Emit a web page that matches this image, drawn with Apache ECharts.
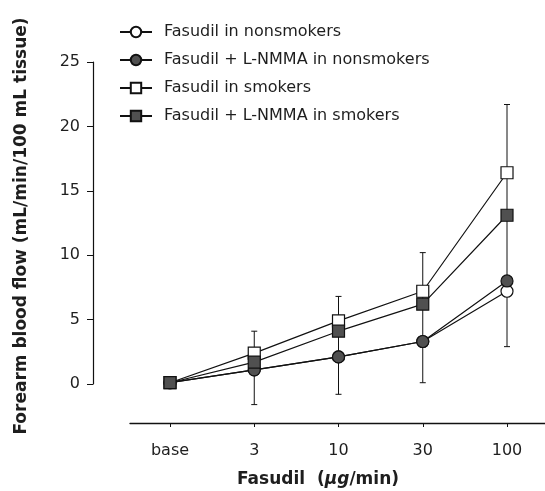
<!DOCTYPE html>
<html>
<head>
<meta charset="utf-8">
<script src="https://cdn.jsdelivr.net/npm/echarts@6/dist/echarts.min.js"></script>
<style>
html,body{margin:0;padding:0;background:#fff;}
#chart{width:545px;height:491px;}
</style>
</head>
<body>
<div id="chart"></div>
<script>
// ---- data ----
var categories = ['base', '3', '10', '30', '100'];
var fasudilNonsmokers = [0.1, 1.1, 2.1, 3.3, 7.2];
var fasudilLnmmaNonsmokers = [0.1, 1.1, 2.1, 3.3, 8.0];
var fasudilSmokers = [0.1, 2.4, 4.9, 7.2, 16.4];
var fasudilLnmmaSmokers = [0.1, 1.7, 4.1, 6.2, 13.1];
var errUpper = [null, 4.1, 6.8, 10.2, 21.7];
var errLower = [null, -1.6, -0.8, 0.1, 2.9];
var yTicks = [0, 5, 10, 15, 20, 25];
var seriesNames = ['Fasudil in nonsmokers', 'Fasudil + L-NMMA in nonsmokers', 'Fasudil in smokers', 'Fasudil + L-NMMA in smokers'];

function pairs(arr) { return arr.map(function (v, i) { return [i, v]; }); }

var FONT = 'DejaVu Sans';
var TXT = '#1e1e1e';
var GRAY = '#505050';

var chart = echarts.init(document.getElementById('chart'));

function lineSeries(name, data, symbol, fill, z) {
  return {
    name: name, type: 'line', xAxisIndex: 0, yAxisIndex: 0,
    data: pairs(data), symbol: symbol, symbolSize: 12, z: z,
    lineStyle: { color: '#111', width: 1.2 },
    itemStyle: { color: fill, borderColor: '#111', borderWidth: 1.2 },
    emphasis: { disabled: true }, animation: false
  };
}

var errData = categories.map(function (c, i) { return [i, errLower[i], errUpper[i]]; })
  .filter(function (d) { return d[1] != null; });

var option = {
  animation: false,
  backgroundColor: '#fff',
  grid: [
    { left: 93, right: 0, top: 62, bottom: 107 },
    { left: 130, right: 0, top: 400, bottom: 68 }
  ],
  xAxis: [
    { type: 'value', gridIndex: 0, min: -0.914, max: 4.451, show: false },
    { type: 'value', gridIndex: 1, min: -0.475, max: 4.451,
      splitLine: { show: false },
      axisLine: { show: true, onZero: false, lineStyle: { color: '#111', width: 1.3 } },
      axisTick: { show: true, length: 4, lineStyle: { color: '#111' }, customValues: [0, 1, 2, 3, 4] },
      axisLabel: { show: true, margin: 20, fontFamily: FONT, fontSize: 16, color: TXT,
        customValues: [0, 1, 2, 3, 4],
        formatter: function (v) { return categories[Math.round(v)]; } } }
  ],
  yAxis: [
    { type: 'value', gridIndex: 0, min: 0, max: 25, interval: 5,
      splitLine: { show: false },
      axisLine: { show: true, onZero: false, lineStyle: { color: '#111', width: 1.2 } },
      axisTick: { show: true, length: 6, lineStyle: { color: '#111' } },
      axisLabel: { margin: 13, fontFamily: FONT, fontSize: 16, color: TXT } },
    { type: 'value', gridIndex: 1, show: false }
  ],
  legend: {
    orient: 'vertical', left: 114, top: 19, itemGap: 12,
    itemWidth: 32, itemHeight: 13,
    data: seriesNames,
    textStyle: { fontFamily: FONT, fontSize: 16, color: TXT, padding: [0, 0, 0, 7] },
    selectedMode: false
  },
  series: [
    {
      type: 'custom', xAxisIndex: 0, yAxisIndex: 0, z: 1, clip: false,
      data: errData,
      renderItem: function (params, api) {
        var x = api.value(0);
        var lo = api.coord([x, api.value(1)]);
        var hi = api.coord([x, api.value(2)]);
        var w = 3;
        var st = { stroke: '#111', lineWidth: 1 };
        return { type: 'group', children: [
          { type: 'line', shape: { x1: lo[0], y1: lo[1], x2: hi[0], y2: hi[1] }, style: st },
          { type: 'line', shape: { x1: hi[0] - w, y1: hi[1], x2: hi[0] + w, y2: hi[1] }, style: st },
          { type: 'line', shape: { x1: lo[0] - w, y1: lo[1], x2: lo[0] + w, y2: lo[1] }, style: st }
        ]};
      }
    },
    lineSeries(seriesNames[0], fasudilNonsmokers, 'circle', '#fff', 2),
    lineSeries(seriesNames[1], fasudilLnmmaNonsmokers, 'circle', GRAY, 3),
    lineSeries(seriesNames[2], fasudilSmokers, 'rect', '#fff', 4),
    lineSeries(seriesNames[3], fasudilLnmmaSmokers, 'rect', GRAY, 5)
  ],
  graphic: [
    { type: 'text', x: 22, y: 226, rotation: Math.PI / 2,
      style: { text: 'Forearm blood flow (mL/min/100 mL tissue)', font: 'bold 17px "DejaVu Sans"',
        fill: TXT, align: 'center', verticalAlign: 'middle' } },
    { type: 'text', x: 318, y: 480,
      style: { text: 'Fasudil  ({it|µg}/min)', font: 'bold 17px "DejaVu Sans"', fill: TXT,
        align: 'center', verticalAlign: 'middle',
        rich: { it: { fontStyle: 'italic', fontWeight: 'bold', fontSize: 17, fontFamily: FONT, fill: TXT } } } }
  ]
};
chart.setOption(option);
</script>
</body>
</html>
